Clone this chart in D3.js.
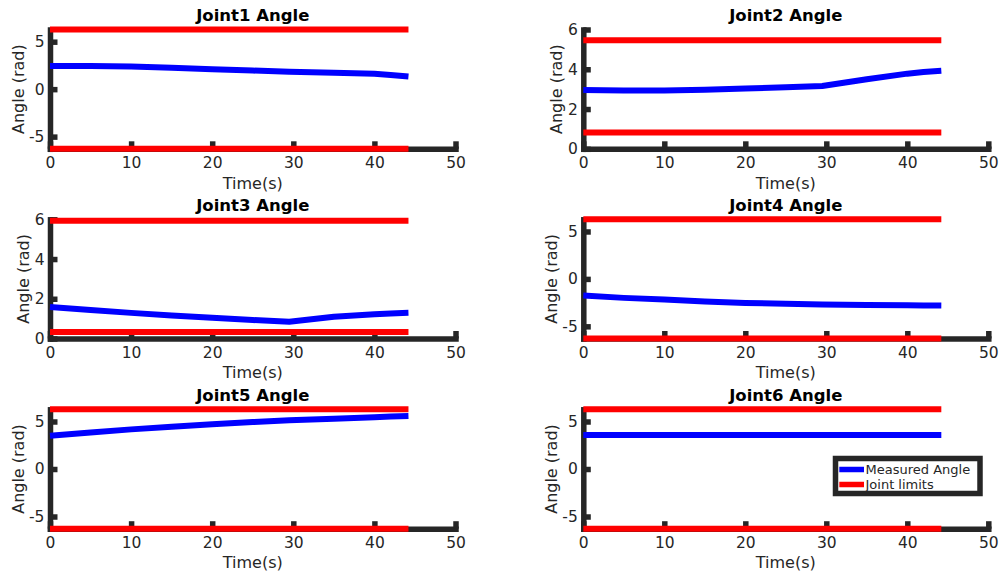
<!DOCTYPE html>
<html>
<head>
<meta charset="utf-8">
<script src="https://cdn.jsdelivr.net/npm/d3@7"></script>
<style>
  html, body { margin: 0; padding: 0; background: #fff; }
  svg { display: block; font-family: "DejaVu Sans", sans-serif; }
</style>
</head>
<body>
<svg id="chart" width="1000" height="579"></svg>
<script>
// ---------------- data ----------------
const jointNames = ["Joint1 Angle", "Joint2 Angle", "Joint3 Angle", "Joint4 Angle", "Joint5 Angle", "Joint6 Angle"];
const timeS = [0, 5, 10, 15, 20, 25, 29.5, 35, 40, 42, 44.2];
const joint1 = [2.45, 2.43, 2.38, 2.25, 2.10, 1.96, 1.82, 1.72, 1.61, 1.50, 1.33];
const joint2 = [2.96, 2.93, 2.93, 2.97, 3.03, 3.09, 3.16, 3.50, 3.78, 3.86, 3.92];
const joint3 = [1.59, 1.44, 1.29, 1.16, 1.04, 0.93, 0.84, 1.09, 1.22, 1.26, 1.29];
const joint4 = [-1.76, -2.00, -2.18, -2.38, -2.53, -2.63, -2.70, -2.75, -2.78, -2.80, -2.81];
const joint5 = [3.50, 3.85, 4.17, 4.45, 4.70, 4.94, 5.14, 5.30, 5.45, 5.52, 5.58];
const joint6 = [3.58, 3.58, 3.58, 3.58, 3.58, 3.58, 3.58, 3.58, 3.58, 3.58, 3.58];
const measured = [joint1, joint2, joint3, joint4, joint5, joint6];
const lowerLimits = [-6.2832, 0.82, 0.33, -6.2832, -6.2832, -6.2832];
const upperLimits = [6.2832, 5.46, 5.93, 6.2832, 6.2832, 6.2832];
const yDomains = [[-6.2832, 6.2832], [0, 6], [0, 6], [-6.2832, 6.2832], [-6.2832, 6.2832], [-6.2832, 6.2832]];
const yTickSets = [[-5, 0, 5], [0, 2, 4, 6], [0, 2, 4, 6], [-5, 0, 5], [-5, 0, 5], [-5, 0, 5]];
const xDomain = [0, 50];
const xTicks = [0, 10, 20, 30, 40, 50];
const legendLabels = ["Measured Angle", "Joint limits"];

// ---------------- layout ----------------
const colX = [[50, 455.5], [583.3, 988.3]];
const rowY = [[29.5, 148.8], [219.3, 338.5], [409.3, 528.7]];
const AX = "#262626";
const BLUE = "#0000ff", RED = "#ff0000";
const LW = 6, AXW = 5.5;
const fmt = d => String(d);

const svg = d3.select("#chart");

jointNames.forEach((name, i) => {
  const col = i % 2, row = Math.floor(i / 2);
  const [x0, x1] = colX[col];
  const [yTop, yBot] = rowY[row];
  const x = d3.scaleLinear().domain(xDomain).range([x0, x1]);
  const y = d3.scaleLinear().domain(yDomains[i]).range([yBot, yTop]);
  const g = svg.append("g");

  // axes
  const gx = g.append("g").attr("transform", `translate(0,${yBot})`)
    .call(d3.axisBottom(x).tickValues(xTicks).tickFormat(fmt)
      .tickSizeInner(-7.5).tickSizeOuter(0).tickPadding(8.3));
  const gy = g.append("g").attr("transform", `translate(${x0},0)`)
    .call(d3.axisLeft(y).tickValues(yTickSets[i]).tickFormat(fmt)
      .tickSizeInner(-7.5).tickSizeOuter(0).tickPadding(5.5));
  [gx, gy].forEach(a => {
    a.select(".domain").attr("stroke", AX).attr("stroke-width", AXW).attr("stroke-linecap", "square");
    a.selectAll(".tick line").attr("stroke", AX).attr("stroke-width", AXW);
    a.selectAll(".tick text").attr("fill", AX).style("font-size", "15.5px")
      .style("font-family", "DejaVu Sans");
  });

  // tick label width for ylabel placement
  let maxW = 0;
  gy.selectAll(".tick text").each(function () { maxW = Math.max(maxW, this.getBBox().width); });

  // data lines
  const line = d3.line().x(d => x(d[0])).y(d => y(d[1]));
  const tEnd = timeS[timeS.length - 1];
  [lowerLimits[i], upperLimits[i]].forEach(v => {
    g.append("path").datum([[0, v], [tEnd, v]]).attr("d", line)
      .attr("fill", "none").attr("stroke", RED).attr("stroke-width", LW);
  });
  g.append("path").datum(timeS.map((t, k) => [t, measured[i][k]])).attr("d", line)
    .attr("fill", "none").attr("stroke", BLUE).attr("stroke-width", LW)
    .attr("stroke-linejoin", "round");

  // title & labels
  g.append("text").attr("x", (x0 + x1) / 2).attr("y", yTop - 8.5)
    .attr("text-anchor", "middle").attr("font-weight", "bold").attr("font-size", "16.5px")
    .attr("fill", "#000").text(name);
  g.append("text").attr("x", (x0 + x1) / 2).attr("y", yBot + 39.7)
    .attr("text-anchor", "middle").attr("font-size", "16px").attr("fill", AX).text("Time(s)");
  const lx = x0 - maxW - 11, ly = (yTop + yBot) / 2;
  g.append("text").attr("transform", `translate(${lx},${ly}) rotate(-90)`)
    .attr("text-anchor", "middle").attr("font-size", "16px").attr("fill", AX).text("Angle (rad)");

  // legend in last subplot
  if (i === 5) {
    const lg = g.append("g");
    lg.append("rect").attr("x", 835.5).attr("y", 458.5).attr("width", 144.5).attr("height", 35)
      .attr("fill", "#fff").attr("stroke", AX).attr("stroke-width", AXW);
    [BLUE, RED].forEach((c, k) => {
      const yy = 469.5 + k * 15;
      lg.append("line").attr("x1", 839.3).attr("x2", 864).attr("y1", yy).attr("y2", yy)
        .attr("stroke", c).attr("stroke-width", 5.5);
      lg.append("text").attr("x", 865.5).attr("y", yy).attr("dy", "0.36em")
        .attr("font-size", "13px").attr("fill", AX).text(legendLabels[k]);
    });
  }
});
</script>
</body>
</html>
